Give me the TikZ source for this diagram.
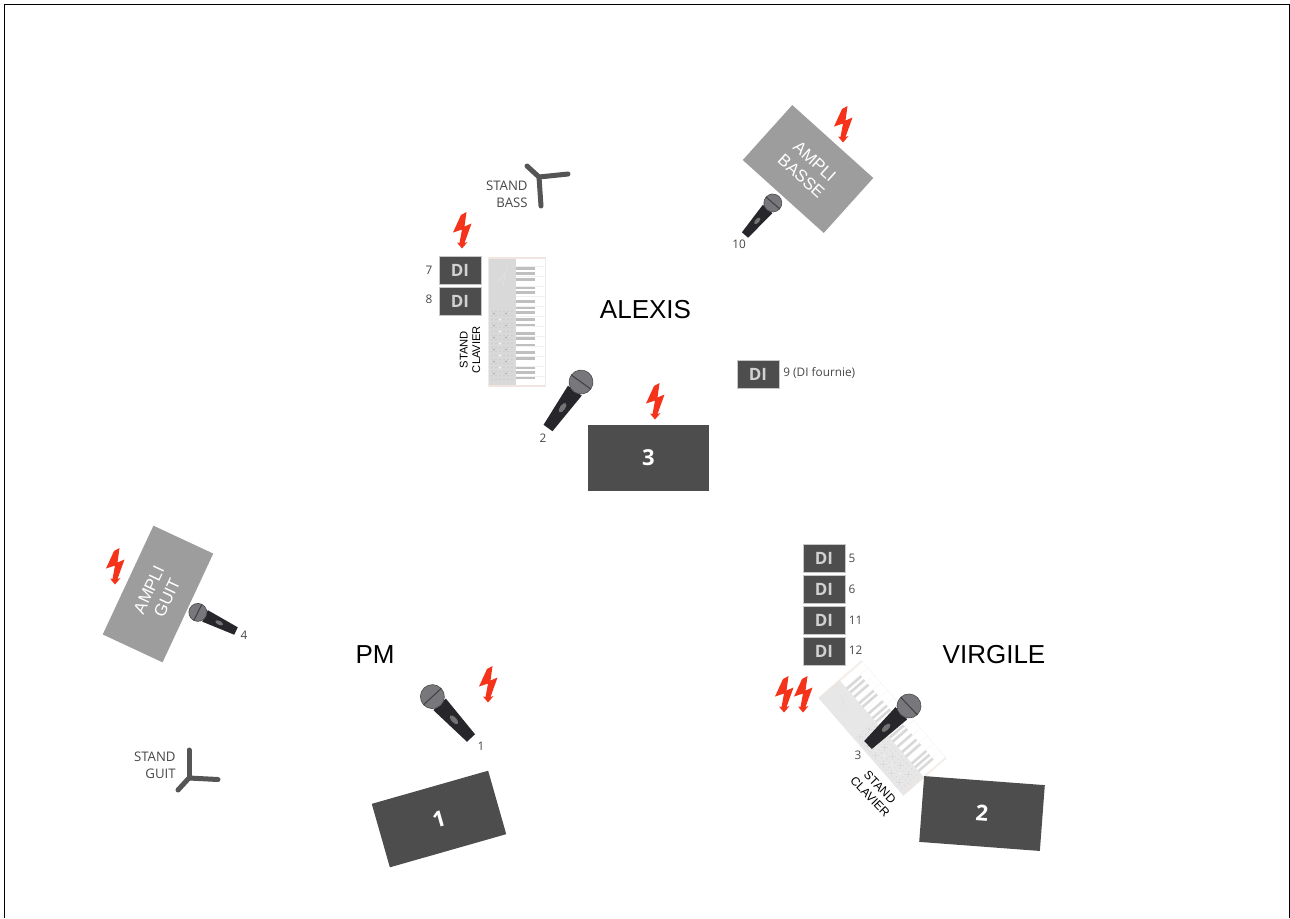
\documentclass[tikz,border=0pt]{standalone}
\usepackage{fontspec}
\setmainfont{Liberation Sans}
\newfontfamily\labelfont{Open Sans}
\usepackage{xcolor}
\usepackage{tikz}
\definecolor{darkbox}{HTML}{4D4D4D}
\definecolor{amplibox}{HTML}{9D9D9D}
\definecolor{boltred}{HTML}{F5321A}
\definecolor{standgrey}{HTML}{555555}
\definecolor{keyband}{HTML}{F0E6DF}
\definecolor{micbody}{HTML}{27272B}
\definecolor{michead}{HTML}{77777C}

\begin{document}
\begin{tikzpicture}[
    x=0.5pt, y=0.5pt,
    speaker/.style={
      fill=darkbox, text=white, minimum width=60.5pt, minimum height=33pt,
      inner sep=0pt, font=\labelfont\bfseries\fontsize{11}{13}\selectfont
    },
    ampli/.style={
      fill=amplibox, text=white, align=center, inner sep=0pt,
      font=\fontsize{8.4}{10}\selectfont
    },
    dibox/.style={
      fill=darkbox, draw=black!22, line width=0.3pt, text=black!18,
      minimum width=21pt, minimum height=14.2pt, inner sep=0pt,
      font=\labelfont\bfseries\fontsize{8.5}{10}\selectfont
    },
    num/.style={
      text=black!72, inner sep=0pt, font=\labelfont\fontsize{5.9}{7}\selectfont
    },
    standlabel/.style={
      text=black!72, align=right, inner sep=0pt,
      font=\labelfont\fontsize{6.6}{8.5}\selectfont
    },
    clavierlabel/.style={
      text=black, align=center, inner sep=0pt,
      font=\fontsize{5.6}{6.2}\selectfont
    },
    person/.style={inner sep=0pt, font=\fontsize{13}{15}\selectfont},
    leg/.style={draw=standgrey, line width=2.5pt, line cap=round},
    bolt/.pic={
      \fill[boltred] (4.5,18) -- (-1,15) -- (-9,-2.5) -- (0,0.5) -- (-2.5,-13) -- (-5,-12.5)
        -- (0,-18.5) -- (5.5,-12) -- (2.5,-13) -- (9.5,6.5) -- (2.5,3.5) -- cycle;
    },
    mic/.pic={
      \fill[micbody] (0,-5.5) -- (0,5.5) -- (46,8.5) -- (46,-8.5) -- cycle;
      \fill[black!55] (25,0) ellipse (5.5 and 2.6);
      \filldraw[fill=michead, draw=black!70, line width=0.3pt] (56.6,0) circle (12);
      \draw[black!75, line width=0.5pt] (56.6,-12) -- (56.6,12);
    },
    clavier/.pic={
      \fill[white] (-28.5,-64.5) rectangle (28.5,64.5);
      \draw[black!8, line width=0.2pt] (-28.5,-64.5) rectangle (28.5,64.5);
      \fill[black!15] (-28.5,-64.5) rectangle (-1,64.5);
      \fill[keyband] (-28.5,63) rectangle (28.5,65);
      \fill[keyband] (-28.5,-65) rectangle (28.5,-63);
      \foreach \ykey in {53,48,42,34,29,20,14,9,2,-4,-12,-17,-24,-31,-37,-46,-51,-56}
        \fill[black!25] (-1,\ykey-1.3) rectangle (18,\ykey+1.3);
      \foreach \ywhite in {-55,-45,...,55}
        \draw[black!6, line width=0.2pt] (-1,\ywhite) -- (28.5,\ywhite);
      % logo et boutons du panneau
      \draw[white!88!black, line width=0.4pt] (-20,40) .. controls (-12,45) and (-8,52) .. (-10,56) (-14,36) -- (-11,50);
      \foreach \ydot in {-58,-54,...,12}
        \foreach \xdot in {-25,-21,...,-5}
          \fill[white!80!black] (\xdot,\ydot) circle (0.8);
      \foreach \ydot in {-52,-40,...,8}
        \foreach \xdot in {-23,-11}
          \fill[black!35] (\xdot,\ydot) circle (0.8);
      \foreach \ydot in {-46,-34,...,2}
        \fill[white] (-17,\ydot) circle (1);
    }
  ]
    \useasboundingbox (0,0) rectangle (1290,-918);
    % cadre
    \draw[black, line width=0.5pt] (4,-918) -- (4,-4) -- (1289.5,-4) -- (1289.5,-918);

    % ALEXIS
    \node[person] (alexis) at (645.5,-310) {ALEXIS};
    \pic (clavierA) at (517,-321.5) {clavier};
    \node[dibox] (di7) at (460,-270.5) {DI};
    \node[dibox] (di8) at (460,-301) {DI};
    \node[dibox] (di9) at (758,-374) {DI};
    \node[num] (num7) at (429,-270) {7};
    \node[num] (num8) at (429,-299) {8};
    \node[num,anchor=west] (num9) at (783,-372.5) {9 (DI fournie)};
    \node[clavierlabel,rotate=90] (labelA) at (470,-349.5) {STAND\\CLAVIER};
    \pic[rotate=54.3] (mic2) at (548,-428) {mic};
    \node[num] (num2) at (543,-438) {2};
    \node[speaker] (ret3) at (648.5,-458) {3};
    \draw[leg] (539,-177) -- (527,-166);
    \draw[leg] (539,-177) -- (568,-174);
    \draw[leg] (539,-177) -- (541,-206);
    \node[standlabel,anchor=east] (standB) at (528,-194.5) {STAND\\BASS};
    \node[ampli,rotate=-42,minimum width=54.5pt,minimum height=37pt] (basse) at (808,-169) {AMPLI\\BASSE};
    \pic[rotate=49,scale=0.75] (mic10) at (745,-235) {mic};
    \node[num] (num10) at (739,-244) {10};

    % PM
    \node[person] (pm) at (375,-655) {PM};
    \node[ampli,rotate=65,minimum width=60pt,minimum height=33pt] (guit) at (158,-594) {AMPLI\\GUIT};
    \pic[rotate=154,scale=0.75] (mic4) at (236,-631) {mic};
    \node[num] (num4) at (244,-635) {4};
    \draw[leg] (189,-778) -- (189,-750);
    \draw[leg] (189,-778) -- (218,-779.5);
    \draw[leg] (189,-778) -- (178,-790);
    \node[standlabel,anchor=east] (standG) at (176,-765) {STAND\\GUIT};
    \pic[rotate=133] (mic1) at (471,-738) {mic};
    \node[num] (num1) at (481,-746.5) {1};
    \node[speaker,rotate=15.9] (ret1) at (439,-819) {1};

    % VIRGILE
    \node[person] (virgile) at (994,-655) {VIRGILE};
    \node[dibox] (di5) at (824,-558) {DI};
    \node[dibox] (di6) at (824,-589) {DI};
    \node[dibox] (di11) at (824,-620) {DI};
    \node[dibox] (di12) at (824,-651) {DI};
    \node[num] (num5) at (852,-558.5) {5};
    \node[num] (num6) at (852,-589.5) {6};
    \node[num] (num11) at (855.5,-620) {11};
    \node[num] (num12) at (855.5,-650) {12};
    \pic[rotate=41,opacity=0.6] (clavierV) at (882.5,-728) {clavier};
    \pic[rotate=43.6] (mic3) at (868,-745) {mic};
    \node[num] (num3) at (858,-755.5) {3};
    \node[clavierlabel,rotate=-46,font=\fontsize{6}{6.9}\selectfont] (labelV) at (875,-792) {STAND\\CLAVIER};
    \node[speaker,rotate=-4.3] (ret2) at (982,-813.5) {2};

    % alimentations
    \pic (boltA) at (462,-230) {bolt};
    \pic (boltB) at (655,-401) {bolt};
    \pic (boltC) at (843,-124) {bolt};
    \pic (boltD) at (115,-566) {bolt};
    \pic (boltE) at (488,-684) {bolt};
    \pic (boltF) at (784,-694) {bolt};
    \pic (boltG) at (803,-694) {bolt};
  \end{tikzpicture}
\end{document}
